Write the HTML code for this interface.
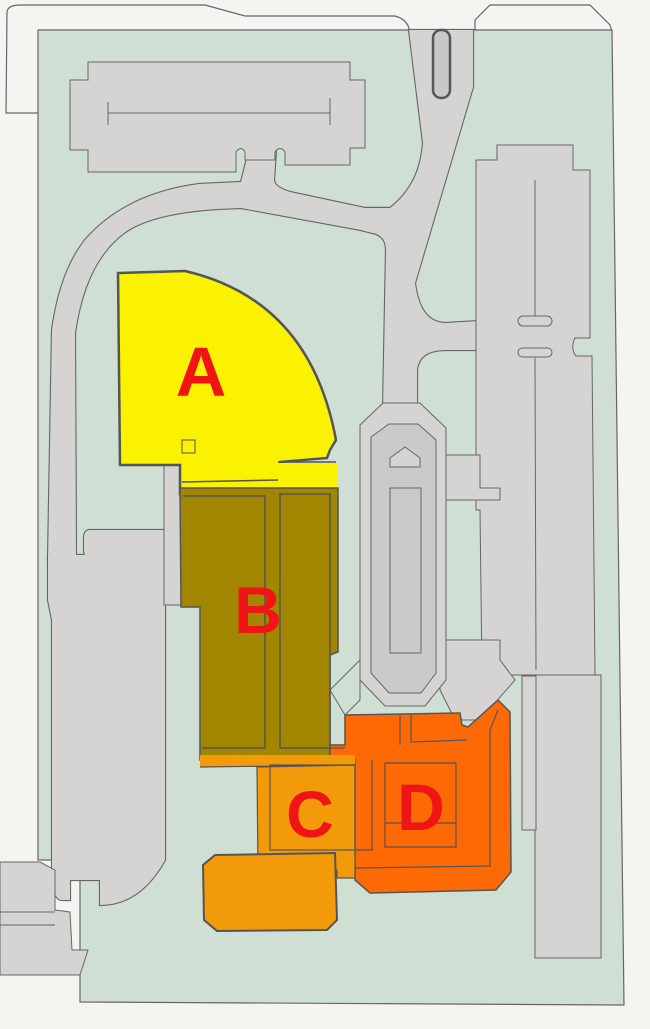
<!DOCTYPE html>
<html><head><meta charset="utf-8"><style>
html,body{margin:0;padding:0;background:#f5f4f0;}
svg{display:block}
text{font-family:"Liberation Sans",sans-serif;font-weight:bold;fill:#f01414}
</style></head><body>
<svg width="650" height="1029" viewBox="0 0 650 1029" xmlns="http://www.w3.org/2000/svg">
<rect width="650" height="1029" fill="#f5f4f0"/>
<path d="M42,113 L6,113 L7,12 Q8,5 20,5 L205,5 L245,16 L395,16 Q410,20 410,35" fill="none" stroke="#666" stroke-width="1.2"/>
<path d="M475,30 L475,20 L490,5 L590,5 L610,25 L612,32" fill="none" stroke="#666" stroke-width="1.2"/>
<polygon points="38,30 612,30 624,1005 80,1002 80,860 38,860" fill="#cfdfd3" stroke="#666" stroke-width="1.2"/>
<defs>
<path id="r1" d="M409,30 L473,30 L473,87 L415,283 Q420,323 446,323 L496,320 L496,350 L446,350 Q419,350 417,370 L417,410 L383,410 L386,250 Q386,236 373,233 L361,230 L365,208 L390,208 Q420,185 423,143 Z"/>
<path id="r2" d="M390,208 L365,208 L290,192 Q274,187 274,180 L276,150 L249,150 L241,182 L199,184 Q125,194 85,240 Q60,272 52,330 L48,560 L76,560 L75,333 Q85,262 124,233 Q155,210 241,208 L361,230 L373,233 Z"/>
<path id="r3" d="M48,555 L48,600 L52,620 L52,880 Q54,900 62,900 L70,900 L70,880 L100,880 L100,905 Q140,905 165,860 L165,555 Z"/>
<path id="r4" d="M90,530 L170,530 L170,558 L90,558 Q84,558 84,550 L84,538 Q84,530 90,530 Z"/>
</defs>
<g fill="#d5d4d2">
<use href="#r1" stroke="#666" stroke-width="2.2"/>
<use href="#r2" stroke="#666" stroke-width="2.2"/>
<use href="#r3" stroke="#666" stroke-width="2.2"/>
<use href="#r4" stroke="#666" stroke-width="2.2"/>
<use href="#r1"/><use href="#r2"/><use href="#r3"/><use href="#r4"/>
</g>
<g stroke="#666" stroke-width="1" fill="#d5d4d2">
<rect x="433" y="30" width="17" height="68" rx="8" fill="#c9c8c6" stroke="#555" stroke-width="2.5"/>
<path d="M88,62 L350,62 L350,80 L365,80 L365,148 L350,148 L350,165 L285,165 L285,152 Q280,145 275,152 L275,160 L245,160 L245,152 Q241,145 236,152 L236,172 L88,172 L88,150 L70,150 L70,80 L88,80 Z"/>
<path d="M108,113 L330,113 M108,102 L108,125 M330,98 L330,125" fill="none"/>
<path d="M497,145 L573,145 L573,170 L590,170 L590,338 L575,338 Q570,348 576,356 L592,356 L595,675 L482,675 L480,510 L476,510 L476,160 L497,160 Z"/>
<path d="M535,180 L535,316 M535,358 L536,670" fill="none"/>
<rect x="518" y="316" width="34" height="10" rx="5"/>
<rect x="518" y="348" width="34" height="9" rx="4.5"/>
<rect x="535" y="675" width="66" height="283"/>
<rect x="522" y="676" width="14" height="154"/>
<path d="M440,455 L480,455 L480,488 L500,488 L500,500 L440,500 Z"/>
<path d="M440,640 L500,640 L500,660 L515,680 L480,720 L455,720 L440,690 Z"/>
<polygon points="360,425 383,403 420,403 446,428 446,680 425,706 385,706 360,680"/>
<polygon points="371,437 389,424 418,424 436,440 436,673 421,693 389,693 371,673" fill="#cacac8"/>
<rect x="390" y="488" width="31" height="165" fill="#cacac8"/>
<polygon points="390,467 390,458 405,447 420,458 420,467" fill="#d5d4d2"/>
<path d="M0,862 L40,862 L55,870 L55,910 L70,912 L72,950 L88,950 L80,975 L0,975 Z"/>
<path d="M0,912 L55,912 M0,925 L55,925" fill="none"/>
<rect x="164" y="465" width="18" height="140"/>
<path d="M330,690 L360,660 L360,700 L345,715 Z" fill="#cfdfd3"/>
</g>
<!-- A -->
<path d="M118,273 L185,271 Q310,300 336,440 L330,450 L327,458 L280,462 L279,492 L180,494 L180,465 L120,465 Z" fill="#faf200" stroke="#555" stroke-width="2.5"/>
<rect x="182" y="463" width="155" height="28" fill="#faf200"/>
<path d="M182,482 L278,480 M278,462 L336,462" stroke="#555" stroke-width="1.5" fill="none"/>
<rect x="182" y="440" width="13" height="13" fill="none" stroke="#555" stroke-width="1"/>
<!-- B -->
<polygon points="180,488 338,488 338,652 330,655 330,760 200,760 200,607 181,607" fill="#a38600" stroke="#555" stroke-width="1.5"/>
<path d="M183,496 L265,496 L265,748 L202,748" fill="none" stroke="#555" stroke-width="1.5"/>
<rect x="280" y="494" width="50" height="254" fill="none" stroke="#555" stroke-width="1.5"/>
<!-- D -->
<path d="M345,715 L460,713 L462,725 L468,727 L498,700 L510,712 L511,872 L496,890 L370,893 L355,880 L355,865 L330,865 L330,745 L345,745 Z" fill="#fd6a05" stroke="#555" stroke-width="1.5"/>
<path d="M400,715 L400,745 M411,715 L411,742 L467,740 M330,748 L345,748 M355,758 L355,866 M385,763 L385,847 L456,847 L456,763 Z M385,823 L456,823 M356,850 L372,850 L372,760 M355,868 L490,866 L490,730 L498,710" stroke="#555" stroke-width="1.2" fill="none"/>
<!-- C -->
<rect x="200" y="755" width="155" height="12" fill="#f39a0a"/>
<path d="M257,767 L355,765 L355,878 L337,878 L337,870 L258,870 Z" fill="#f39a0a" stroke="#555" stroke-width="1.2"/>
<rect x="270" y="765" width="85" height="85" fill="none" stroke="#555" stroke-width="1.2"/>
<path d="M200,767 L355,765" stroke="#555" stroke-width="1.2"/>
<polygon points="215,855 335,853 337,920 327,930 217,931 204,920 203,865" fill="#f39a0a" stroke="#555" stroke-width="2"/>
<text x="201" y="396" font-size="70" text-anchor="middle">A</text>
<text x="258" y="633" font-size="66" text-anchor="middle">B</text>
<text x="310" y="837" font-size="66" text-anchor="middle">C</text>
<text x="421" y="830" font-size="66" text-anchor="middle">D</text>
</svg>
</body></html>
